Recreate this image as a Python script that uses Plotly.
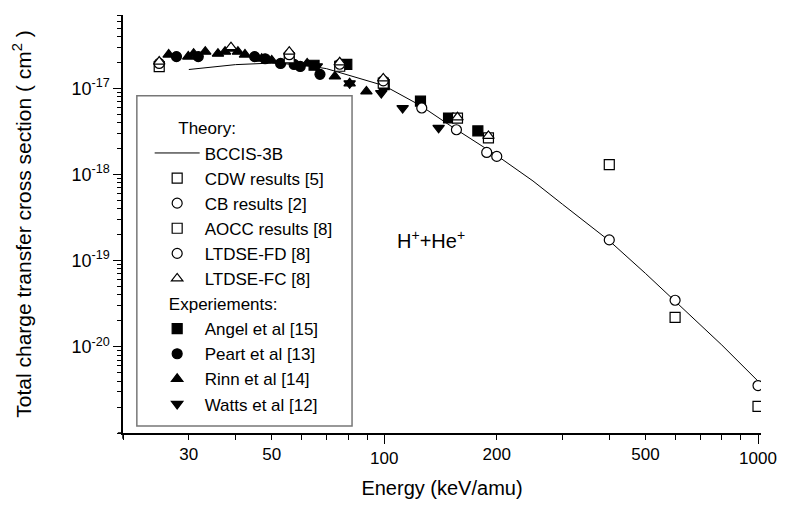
import math
import plotly.graph_objects as go

# ---------------- data ----------------
bccis_E = [30, 40, 50, 60, 70, 80, 90, 100, 125, 150, 200, 250, 300, 400, 500, 600, 800, 1000]
bccis_s = [1.65e-17, 1.88e-17, 1.96e-17, 1.87e-17, 1.69e-17, 1.42e-17, 1.22e-17, 1.07e-17,
           6.3e-18, 3.7e-18, 1.66e-18, 8.4e-19, 4.5e-19, 1.7e-19, 7.1e-20, 3.4e-20, 1.05e-20, 4.0e-21]

cdw_E = [400, 600, 1000]
cdw_s = [1.3e-18, 2.2e-20, 2.04e-21]

cb_E = [126, 156, 188, 200, 400, 600, 1000]
cb_s = [5.9e-18, 3.3e-18, 1.8e-18, 1.62e-18, 1.74e-19, 3.47e-20, 3.55e-21]

aocc_E = [25, 55.7, 76, 99.4, 157, 190]
aocc_s = [1.78e-17, 2.25e-17, 1.8e-17, 1.15e-17, 4.5e-18, 2.65e-18]

fd_E = [25, 55.7, 76, 99.4]
fd_s = [1.94e-17, 2.45e-17, 1.9e-17, 1.22e-17]

fc_E = [25, 38.9, 55.7, 76, 99.4, 157, 190]
fc_s = [2.04e-17, 3.0e-17, 2.66e-17, 2.0e-17, 1.3e-17, 4.6e-18, 2.8e-18]

angel_E = [64.9, 79.4, 100, 125, 148.6, 178]
angel_s = [1.85e-17, 1.89e-17, 1.1e-17, 7.1e-18, 4.52e-18, 3.2e-18]

peart_E = [27.8, 31.8, 45, 48, 52.8, 57.4, 59.6, 67.3]
peart_s = [2.33e-17, 2.33e-17, 2.33e-17, 2.2e-17, 1.94e-17, 1.89e-17, 1.79e-17, 1.45e-17]

rinn_E = [26.5, 29.9, 30.9, 33.2, 35.9, 37.5, 38.9, 40.6, 42.4, 47, 50, 62.2, 73.8, 80.8, 89.6]
rinn_s = [2.46e-17, 2.33e-17, 2.52e-17, 2.66e-17, 2.52e-17, 2.66e-17, 2.89e-17, 2.66e-17, 2.46e-17,
          2.2e-17, 2.1e-17, 1.94e-17, 1.37e-17, 1.14e-17, 9.2e-18]

watts_E = [66, 80.8, 98.2, 112, 139.8]
watts_s = [1.8e-17, 1.14e-17, 8.8e-18, 5.9e-18, 3.47e-18]

x_label_vals = [30, 50, 200, 500]
x_long_vals = [100, 1000]
x_minor_vals = [20, 40, 60, 70, 80, 90, 300, 400, 600, 700, 800, 900]
y_major_vals = [1e-20, 1e-19, 1e-18, 1e-17]
y_major_text = ["10<sup>-20</sup>", "10<sup>-19</sup>", "10<sup>-18</sup>", "10<sup>-17</sup>"]

# ---------------- figure ----------------
FONT = "Liberation Sans, Arial, Helvetica, sans-serif"
NB = "\u00a0"
fig = go.Figure()

def mk(symbol, fill, size=10):
    return dict(symbol=symbol, size=size, color=fill, line=dict(color="black", width=1.2))

exp_title = NB * 3 + "Experiements:"
th_title = NB * 5 + "Theory:"

# experiments (drawn first)
exp = [
    ("Angel et al [15]", angel_E, angel_s, "square", 7),
    ("Peart et al [13]", peart_E, peart_s, "circle", 8),
    ("Rinn et al [14]", rinn_E, rinn_s, "triangle-up", 9),
    ("Watts et al [12]", watts_E, watts_s, "triangle-down", 10),
]
for name, xs, ys, sym, rank in exp:
    fig.add_trace(go.Scatter(x=xs, y=ys, mode="markers", name=name, marker=mk(sym, "black"),
                             legendgroup="exp", legendgrouptitle=dict(text=exp_title),
                             legendrank=rank))

fig.add_trace(go.Scatter(x=bccis_E, y=bccis_s, mode="lines", name="BCCIS-3B",
                         line=dict(color="black", width=1), legendgroup="th",
                         legendgrouptitle=dict(text=th_title), legendrank=1))
th = [
    ("CDW results [5]", cdw_E, cdw_s, "square", 2),
    ("CB results [2]", cb_E, cb_s, "circle", 3),
    ("AOCC results [8]", aocc_E, aocc_s, "square", 4),
    ("LTDSE-FD [8]", fd_E, fd_s, "circle", 5),
    ("LTDSE-FC [8]", fc_E, fc_s, "triangle-up", 6),
]
for name, xs, ys, sym, rank in th:
    fig.add_trace(go.Scatter(x=xs, y=ys, mode="markers", name=name, marker=mk(sym, "white"),
                             legendgroup="th", legendgrouptitle=dict(text=th_title),
                             legendrank=rank))

xr = [math.log10(20), 3.008]
yr = [-21.0, -16.15]

fig.update_layout(
    width=789, height=508,
    margin=dict(l=123, r=20, t=15, b=73),
    paper_bgcolor="white", plot_bgcolor="white",
    font=dict(family=FONT, size=17, color="black"),
    showlegend=True,
    legend=dict(x=0.0418, y=0.772, xanchor="left", yanchor="top",
                bgcolor="rgba(0,0,0,0)", borderwidth=0, traceorder="grouped",
                tracegroupgap=0, itemwidth=45, font=dict(size=17),
                grouptitlefont=dict(size=17)),
    xaxis=dict(type="log", range=xr, showgrid=False, zeroline=False,
               showline=True, linecolor="black", linewidth=1.5,
               tickmode="array", tickvals=x_label_vals, ticktext=[str(v) for v in x_label_vals],
               ticks="outside", ticklen=5, tickwidth=1.3, tickcolor="black",
               minor=dict(tickvals=x_minor_vals, ticks="outside", ticklen=5, tickwidth=1.3,
                          tickcolor="black", showgrid=False),
               title=dict(text="Energy (keV/amu)", font=dict(size=20), standoff=18),
               tickfont=dict(size=17)),
    xaxis2=dict(type="log", range=xr, overlaying="x", anchor="y", side="bottom",
                showgrid=False, zeroline=False, showline=False,
                tickmode="array", tickvals=x_long_vals, ticktext=[str(v) for v in x_long_vals],
                ticks="outside", ticklen=10, tickwidth=1.3, tickcolor="black",
                tickfont=dict(size=17)),
    yaxis=dict(type="log", range=yr, showgrid=False, zeroline=False,
               showline=True, linecolor="black", linewidth=1.5,
               tickmode="array", tickvals=y_major_vals, ticktext=y_major_text,
               ticks="outside", ticklen=8, tickwidth=1.3, tickcolor="black",
               minor=dict(dtick="D1", ticks="outside", ticklen=4, tickwidth=1.2,
                          tickcolor="black", showgrid=False),
               title=dict(text="Total charge transfer cross section ( cm<sup>2</sup> )",
                          font=dict(size=21), standoff=34),
               tickfont=dict(size=18)),
    shapes=[
        dict(type="rect", xref="paper", yref="paper", x0=0.0217, x1=0.359,
             y0=0.0167, y1=0.807, line=dict(color="#777777", width=1.5),
             fillcolor="rgba(0,0,0,0)", layer="below"),
        dict(type="line", xref="paper", yref="paper", x0=0, x1=0, y0=0, y1=-0.014,
             line=dict(color="black", width=1.5)),
        dict(type="line", xref="paper", yref="paper", x0=-0.008, x1=0, y0=0, y1=0,
             line=dict(color="black", width=1.5)),
    ],
    annotations=[dict(x=math.log10(133), y=-18.75, xref="x", yref="y",
                      text="H<sup>+</sup>+He<sup>+</sup>", showarrow=False,
                      font=dict(size=20))],
)
# a hidden trace to activate xaxis2
fig.add_trace(go.Scatter(x=[100], y=[1e-30], xaxis="x2", mode="markers",
                         marker=dict(opacity=0), showlegend=False, hoverinfo="skip"))

fig.write_html("out.html")
